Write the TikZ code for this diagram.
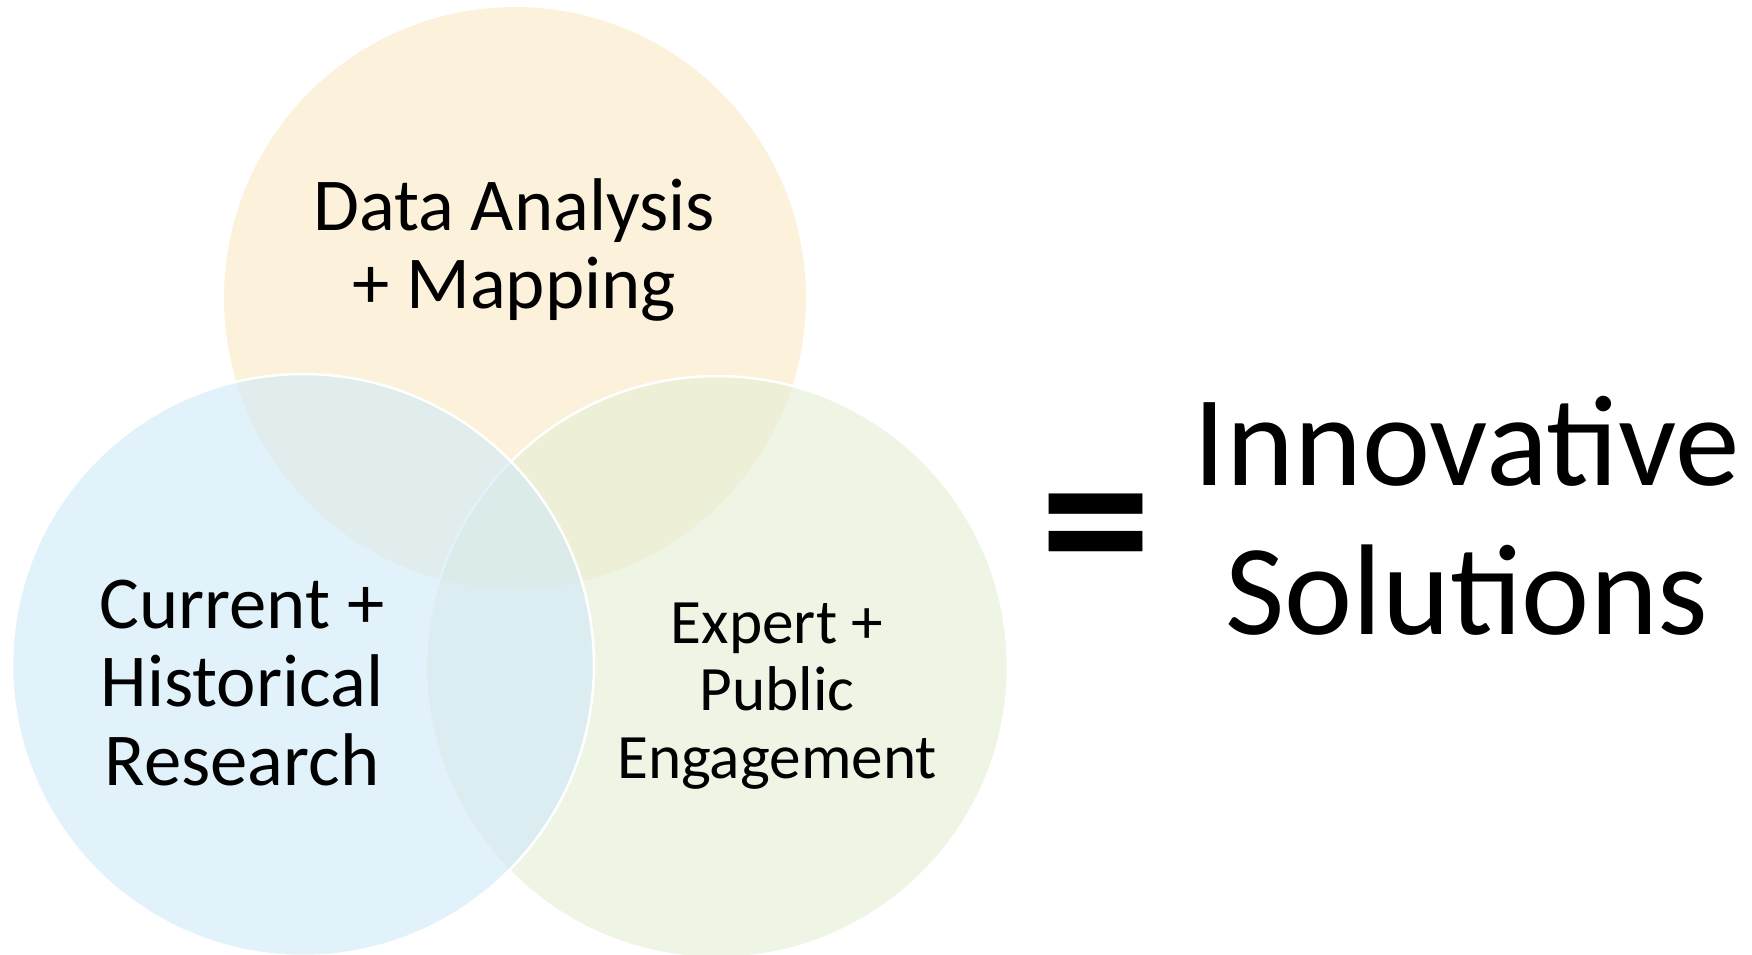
\documentclass[tikz,border=0pt]{standalone}
\usepackage{fontspec}
\setmainfont{Carlito}
\usetikzlibrary{positioning}
\definecolor{mapc}{RGB}{250,232,193}
\definecolor{resc}{RGB}{207,233,248}
\definecolor{engc}{RGB}{228,238,212}

\begin{document}
\begin{tikzpicture}[
                x=0.02cm,y=-0.02cm,
                venn/.style={circle,minimum size=11.64cm,inner sep=0pt,fill opacity=0.6},
                rim/.style={draw=white,line width=1.4pt},
                lbl/.style={align=center,inner sep=0pt,font=\fontsize{42.5}{44.5}\selectfont}
            ]
                \useasboundingbox (0,0) rectangle (1752,954);

                % the three circles, left one on top
                \node[venn,fill=mapc]     (map) at (515,298) {};
                \node[venn,fill=engc,rim] (eng) at (717,667) {};
                \node[venn,fill=resc,rim] (res) at (303,665) {};

                \node[lbl] (maptxt) at (514,250) {Data Analysis\\+ Mapping};
                \node[lbl] (restxt) at (242,683) {Current +\\Historical\\Research};
                \node[lbl,font=\fontsize{36}{38.5}\selectfont] (engtxt) at (777,696) {Expert +\\Public\\Engagement};

                \node[inner sep=0pt,font=\bfseries\fontsize{127}{127}\selectfont] (eq) at (1096,544) {=};
                \node[lbl,font=\fontsize{73.5}{84.5}\selectfont] (sol) at (1467,516) {Innovative\\Solutions};
            \end{tikzpicture}
\end{document}
